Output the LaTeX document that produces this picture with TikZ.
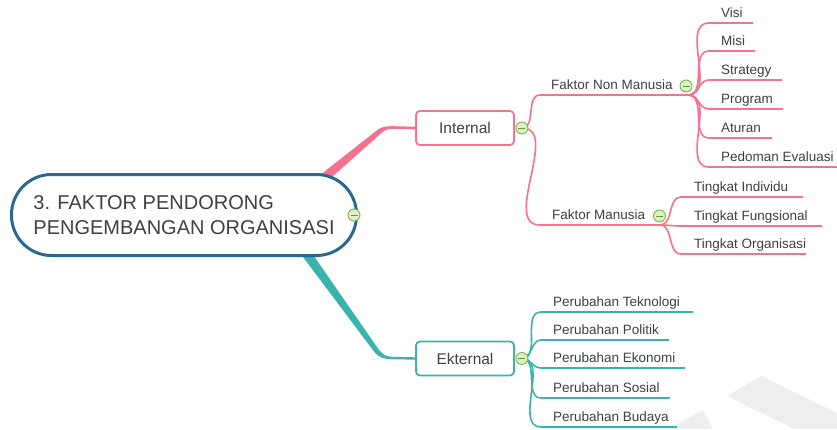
\documentclass[tikz,border=0pt]{standalone}
\usepackage{fontspec}
\setmainfont{Liberation Sans}
\usetikzlibrary{positioning, calc, backgrounds}

\definecolor{rootblue}{HTML}{2B6891}
\definecolor{intpink}{HTML}{F4728E}
\definecolor{extteal}{HTML}{3BB3AD}
\definecolor{txtgray}{HTML}{404040}
\definecolor{tgline}{HTML}{7DB547}
\definecolor{tgfill}{HTML}{DDEFC9}
\definecolor{tgminus}{HTML}{5E9A35}
\definecolor{wmgray}{HTML}{EEEEEE}

\begin{document}
\begin{tikzpicture}[
  x=1pt, y=-1pt,
  font=\fontsize{13.5}{16}\selectfont,
  akar/.style={draw=rootblue, line width=3pt, fill=white, rounded corners=40pt,
               minimum width=345pt, minimum height=81pt, align=left, text=txtgray,
               font=\fontsize{20}{25}\selectfont},
  cabang/.style={draw=#1, line width=1.8pt, fill=white, rounded corners=4pt,
                 minimum width=98pt, minimum height=34pt, text=txtgray,
                 font=\fontsize{15.5}{18}\selectfont},
  daun/.style={anchor=south west, inner xsep=0pt, inner ysep=2.5pt, outer sep=0pt,
               text height=10pt, text depth=3pt, text=txtgray},
  garis/.style={draw=#1, line width=1.6pt},
  tombol/.style={circle, draw=tgline, fill=tgfill, line width=0.9pt,
                 minimum size=12pt, inner sep=0pt,
                 path picture={\draw[tgminus, line width=1pt]
                   ([xshift=2.5pt]path picture bounding box.west) --
                   ([xshift=-2.5pt]path picture bounding box.east);}}
]

% ---------- Kanvas ----------
\useasboundingbox (0,0) rectangle (837,429);

% ---------- Simpul utama ----------
\node[akar] (root) at (184,215) {3. FAKTOR PENDORONG\\PENGEMBANGAN ORGANISASI};
\node[cabang=intpink] (internal) at (465,128) {Internal};
\node[cabang=extteal] (ekternal) at (465,358.5) {Ekternal};

% ---------- Latar dan cabang tebal dari akar ----------
\begin{scope}[on background layer]
  \fill[white] (0,0) rectangle (837,429);
  \fill[wmgray] (727,396) -- (761,376) -- (837,413) -- (837,429) -- (794,429) -- cycle;
  \fill[wmgray] (668,429) -- (703,410) -- (713,429) -- cycle;
  \fill[intpink] ($(root.north)+(131,6)$) -- (378,129.5)
    .. controls (383,126.3) and (387,126.2) .. (393,126.2)
    -- ([yshift=1.3pt]internal.west) -- ([yshift=-1.3pt]internal.west)
    -- (393,128.8) .. controls (388,128.8) and (385,130) .. (381.5,133)
    -- ($(root.north)+(140,11)$) -- cycle;
  \fill[extteal] ($(root.south)+(113,-8)$) -- (374,351.5)
    .. controls (379,358) and (385,359.2) .. (392,359.2)
    -- ([yshift=-1.2pt]ekternal.west) -- ([yshift=1.2pt]ekternal.west)
    -- (392,356.8) .. controls (386,356.8) and (382,354) .. (378,348.5)
    -- ($(root.south)+(125,-8)$) -- cycle;
\end{scope}

\coordinate (intfan) at ([xshift=7pt]internal.east);
\coordinate (extfan) at ([xshift=7pt]ekternal.east);

% ---------- Faktor internal ----------
\node[daun] (nonmanusia) at (551,95) {Faktor Non Manusia};
\node[daun] (manusia) at (552,225) {Faktor Manusia};
\draw[garis=intpink] (intfan) to[out=0,in=180] ([xshift=-11pt]nonmanusia.south west)
  -- ++(148,0) coordinate (nmfan);
\draw[garis=intpink] (intfan) to[out=0,in=180] ([xshift=-12pt]manusia.south west)
  -- ++(120,0) coordinate (mfan);

\foreach \nm/\txt/\yy/\len in {visi/Visi/23/44, misi/Misi/51/46,
    strategy/Strategy/80/73, program/Program/109/74, aturan/Aturan/138/63,
    pedoman/Pedoman Evaluasi/167/128} {
  \node[daun] (\nm) at (721,\yy) {\txt};
  \draw[garis=intpink] (nmfan) to[out=0,in=180] ([xshift=-12pt]\nm.south west) -- ++(\len,0);
}

\foreach \nm/\txt/\yy/\len in {individu/Tingkat Individu/197/122,
    fungsional/Tingkat Fungsional/226/141, organisasi/Tingkat Organisasi/254/125} {
  \node[daun] (\nm) at (694,\yy) {\txt};
  \draw[garis=intpink] (mfan) to[out=0,in=180] ([xshift=-13pt]\nm.south west) -- ++(\len,0);
}

% ---------- Faktor eksternal ----------
\foreach \nm/\txt/\yy/\len in {teknologi/Perubahan Teknologi/312/152,
    politik/Perubahan Politik/340/128, ekonomi/Perubahan Ekonomi/368/144,
    sosial/Perubahan Sosial/398/129, budaya/Perubahan Budaya/427/136} {
  \node[daun] (\nm) at (553,\yy) {\txt};
  \draw[garis=extteal] (extfan) to[out=0,in=180] ([xshift=-12pt]\nm.south west) -- ++(\len,0);
}

% ---------- Tombol lipat ----------
\node[tombol] (tgroot) at ([xshift=-4pt]root.east) {};
\node[tombol] (tgint) at (intfan) {};
\node[tombol] (tgext) at (extfan) {};
\node[tombol, right=7pt of nonmanusia] (tgnm) {};
\node[tombol, right=8pt of manusia] (tgm) {};

\end{tikzpicture}
\end{document}
